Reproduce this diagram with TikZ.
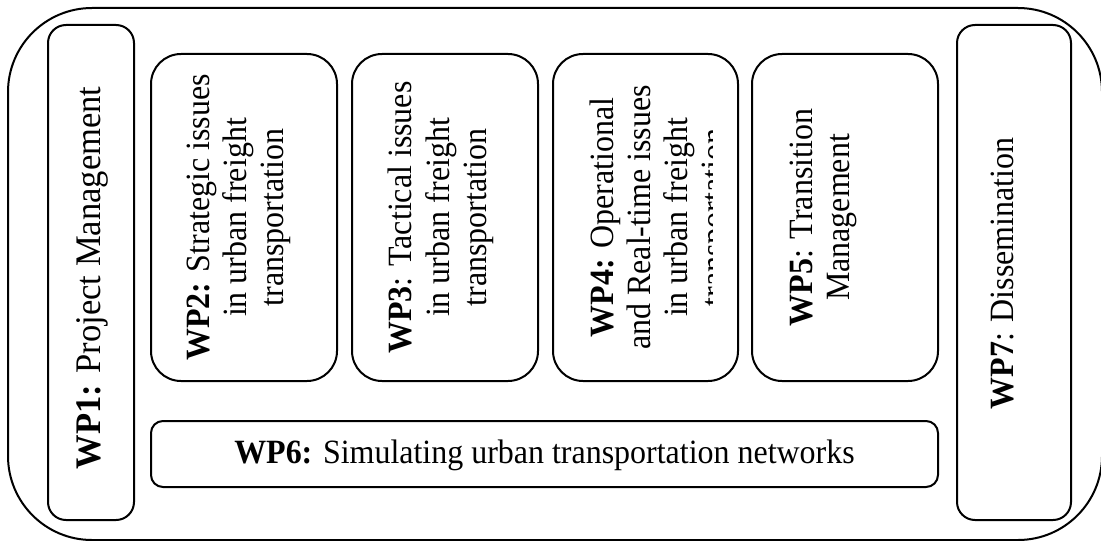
\documentclass[tikz,border=0pt]{standalone}
\usepackage{fontspec}
\setmainfont{Liberation Serif}
\newfontfamily\wpserif{Liberation Serif}[FakeStretch=0.94]
\newfontfamily\wpserifwide{Liberation Serif}[FakeStretch=0.96]
\begin{document}
\begin{tikzpicture}[x=0.5pt,y=-0.5pt,
  wpbox/.style={draw,line width=1pt,inner sep=0pt},
  wpfont/.style={font=\wpserif\fontsize{17pt}{18.5pt}\selectfont},
  wptext/.style={wpfont,rotate=90,inner sep=0pt,align=center}]
\useasboundingbox (0,0) rectangle (1101,540);
\clip (0,0) rectangle (1101,540);
% outer frame
\node[wpbox,rounded corners=42pt,minimum width=547pt,minimum height=266pt] (frame) at (555,274) {};
% side boxes
\node[wpbox,rounded corners=9pt,minimum width=43pt,minimum height=247.5pt] (wp1box) at (91,272.5) {};
\node[wpbox,rounded corners=9pt,minimum width=57pt,minimum height=247.5pt] (wp7box) at (1014,272.5) {};
% inner boxes
\node[wpbox,rounded corners=15pt,minimum width=93pt,minimum height=163.5pt] (wp2box) at (244,217.5) {};
\node[wpbox,rounded corners=15pt,minimum width=93pt,minimum height=163.5pt] (wp3box) at (445,217.5) {};
\node[wpbox,rounded corners=15pt,minimum width=92.5pt,minimum height=163.5pt] (wp4box) at (645.5,217.5) {};
\node[wpbox,rounded corners=15pt,minimum width=93pt,minimum height=163.5pt] (wp5box) at (845,217.5) {};
\node[wpbox,rounded corners=6pt,minimum width=393.5pt,minimum height=33pt] (wp6box) at (544.5,454) {};

% texts
\node[wptext,font=\wpserifwide\fontsize{18pt}{18.5pt}\selectfont] (wp1) at (92,278) {\textbf{WP1:} Project Management};
\node[wptext,anchor=north] (wp2) at (187,217.5) {\textbf{WP2:} Strategic issues\\in urban freight\\transportation};
\node[wptext,anchor=north] (wp3) at (388,217.5) {\textbf{WP3}: Tactical issues\\in urban freight\\transportation};
\begin{scope}
\clip (553,54) rectangle (712,381);
\node[wptext,anchor=north] (wp4) at (589,217.5) {\textbf{WP4:} Operational\\and Real-time issues\\in urban freight\\transportation};
\end{scope}
\node[wptext,anchor=north] (wp5) at (790,217.5) {\textbf{WP5}: Transition\\Management};
\node[wpfont,inner sep=0pt] (wp6) at (544.5,455) {\textbf{WP6:} Simulating urban transportation networks};
\node[wptext] (wp7) at (1002,273.5) {\textbf{WP7}: Dissemination};
\end{tikzpicture}
\end{document}
